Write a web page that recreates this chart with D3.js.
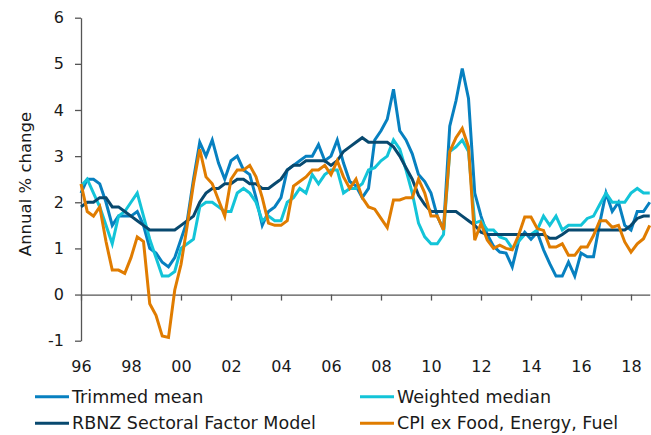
<!DOCTYPE html>
<html>
<head>
<meta charset="utf-8">
<script src="https://cdn.jsdelivr.net/npm/d3@7"></script>
<style>
body { margin: 0; background: #fff; }
svg text { font-family: "DejaVu Sans", Verdana, sans-serif; fill: #1a1a1a; }
.axis path, .axis line { stroke: #555; stroke-width: 1.3; }
.series { fill: none; stroke-width: 3; }
</style>
</head>
<body>
<div id="chart"></div>
<script>
// quarterly, 1996Q1 .. 2018Q4
var startYear = 1996;

var trimmedMean = [2.2, 2.5, 2.5, 2.4, 2.0, 1.5, 1.7, 1.7, 1.7, 1.8, 1.5, 1.0, 0.9, 0.7, 0.6, 0.8,
  1.2, 1.6, 2.5, 3.3, 3.0, 3.35, 2.85, 2.5, 2.9, 3.0, 2.7, 2.6, 2.1, 1.5, 1.8, 1.9,
  2.1, 2.7, 2.8, 2.9, 3.0, 3.0, 3.25, 2.9, 3.0, 3.35, 2.85, 2.45, 2.35, 2.1, 2.3, 3.35,
  3.55, 3.8, 4.45, 3.55, 3.35, 3.05, 2.6, 2.45, 2.2, 1.7, 1.4, 3.65, 4.2, 4.9, 4.25, 2.2,
  1.7, 1.3, 1.05, 0.92, 0.9, 0.6, 1.15, 1.35, 1.2, 1.35, 0.97, 0.67, 0.4, 0.4, 0.7, 0.4,
  0.9, 0.82, 0.82, 1.55, 2.2, 1.8, 2.0, 1.5, 1.4, 1.8, 1.8, 2.0];

var weightedMedian = [2.35, 2.5, 2.2, 1.9, 1.5, 1.1, 1.7, 1.8, 2.0, 2.2, 1.7, 1.2, 0.8, 0.4, 0.4, 0.5,
  1.0, 1.1, 1.2, 1.9, 2.0, 2.0, 1.9, 1.8, 1.8, 2.2, 2.3, 2.2, 2.0, 1.6, 1.7, 1.6,
  1.6, 2.0, 2.1, 2.3, 2.2, 2.6, 2.4, 2.6, 2.7, 2.7, 2.2, 2.3, 2.3, 2.4, 2.7, 2.75,
  2.9, 3.0, 3.35, 3.15, 2.7, 2.2, 1.55, 1.25, 1.1, 1.1, 1.3, 3.1, 3.2, 3.35, 3.1, 1.55,
  1.6, 1.4, 1.4, 1.25, 1.2, 1.0, 1.15, 1.3, 1.3, 1.4, 1.7, 1.5, 1.7, 1.4, 1.5, 1.5,
  1.5, 1.65, 1.7, 1.95, 2.2, 2.0, 2.0, 2.0, 2.2, 2.3, 2.2, 2.2];

var sectoralFactor = [1.9, 2.0, 2.0, 2.1, 2.1, 1.9, 1.9, 1.8, 1.7, 1.6, 1.5, 1.4, 1.4, 1.4, 1.4, 1.4,
  1.5, 1.6, 1.7, 2.0, 2.2, 2.3, 2.3, 2.4, 2.4, 2.5, 2.5, 2.4, 2.4, 2.3, 2.3, 2.4,
  2.5, 2.7, 2.8, 2.8, 2.9, 2.9, 2.9, 2.9, 2.8, 2.9, 3.1, 3.2, 3.3, 3.4, 3.3, 3.3,
  3.3, 3.3, 3.2, 3.0, 2.75, 2.5, 2.15, 1.95, 1.8, 1.8, 1.8, 1.8, 1.8, 1.7, 1.6, 1.5,
  1.35, 1.3, 1.3, 1.3, 1.3, 1.3, 1.3, 1.3, 1.3, 1.3, 1.3, 1.22, 1.22, 1.3, 1.4, 1.4,
  1.4, 1.4, 1.4, 1.4, 1.4, 1.4, 1.4, 1.4, 1.5, 1.65, 1.7, 1.7];

var cpiExFEF = [2.4, 1.8, 1.7, 1.9, 1.15, 0.53, 0.53, 0.46, 0.8, 1.25, 1.15, -0.2, -0.45, -0.9, -0.93, 0.1,
  0.65, 1.5, 2.4, 3.15, 2.55, 2.4, 2.05, 1.7, 2.5, 2.7, 2.7, 2.8, 2.55, 2.1, 1.55, 1.5,
  1.5, 1.6, 2.35, 2.45, 2.55, 2.7, 2.7, 2.8, 2.6, 2.9, 2.55, 2.3, 2.5, 2.1, 1.9, 1.85,
  1.65, 1.45, 2.05, 2.05, 2.1, 2.1, 2.5, 2.2, 1.7, 1.7, 1.4, 3.1, 3.4, 3.6, 3.2, 1.18,
  1.54, 1.18, 1.0, 1.07, 1.0, 0.97, 1.28, 1.68, 1.68, 1.43, 1.39, 1.03, 1.03, 1.1, 0.85, 0.85,
  1.03, 1.03, 1.28, 1.6, 1.6, 1.46, 1.5, 1.14, 0.92, 1.1, 1.21, 1.5];

var tickYears = [1996, 1998, 2000, 2002, 2004, 2006, 2008, 2010, 2012, 2014, 2016, 2018];
var tickLabels = ["96", "98", "00", "02", "04", "06", "08", "10", "12", "14", "16", "18"];
var yTicks = [-1, 0, 1, 2, 3, 4, 5, 6];

var seriesNames = ["Trimmed mean", "Weighted median", "RBNZ Sectoral Factor Model", "CPI ex Food, Energy, Fuel"];
var seriesValues = [trimmedMean, weightedMedian, sectoralFactor, cpiExFEF];
var seriesColors = ["#0780c0", "#13c4d8", "#08496f", "#e07c00"];

var w = 651,
    h = 435,
    m = [17.7, 1.25, 94.3, 81]; // top right bottom left

var x = d3.scaleLinear()
    .domain([startYear, startYear + (trimmedMean.length - 1) / 4])
    .range([m[3], w - m[1]]);

var y = d3.scaleLinear()
    .domain([-1, 6])
    .range([h - m[2], m[0]]);

var svg = d3.select("#chart").append("svg")
    .attr("width", w)
    .attr("height", h);

// y axis
svg.append("g")
    .attr("class", "axis")
    .attr("transform", "translate(" + m[3] + ",0)")
    .call(d3.axisLeft(y)
      .tickValues(yTicks)
      .tickFormat(function(d) { return String(d); })
      .tickSize(6)
      .tickSizeOuter(0)
      .tickPadding(11))
    .selectAll("text")
      .style("font-size", "16px");

// x axis sits on zero, labels pushed down below the plot
svg.append("g")
    .attr("class", "axis")
    .attr("transform", "translate(0," + y(0) + ")")
    .call(d3.axisBottom(x)
      .tickValues(tickYears)
      .tickFormat(function(d, i) { return tickLabels[i]; })
      .tickSize(6)
      .tickSizeOuter(0)
      .tickPadding(60))
    .selectAll("text")
      .style("font-size", "16px");

svg.selectAll(".axis text").attr("fill", "#1a1a1a");

svg.append("text")
    .attr("transform", "translate(31,184) rotate(-90)")
    .attr("text-anchor", "middle")
    .style("font-size", "16.5px")
    .text("Annual % change");

var line = d3.line()
    .x(function(d, i) { return x(startYear + i / 4); })
    .y(function(d) { return y(d); });

svg.selectAll("path.series")
    .data(seriesValues)
  .enter().append("path")
    .attr("class", "series")
    .attr("stroke", function(d, i) { return seriesColors[i]; })
    .attr("d", line);

// legend, two columns
var legend = svg.selectAll("g.legend")
    .data(seriesNames)
  .enter().append("g")
    .attr("class", "legend")
    .attr("transform", function(d, i) {
      return "translate(" + (i % 2 ? 360 : 35) + "," + (i < 2 ? 396.7 : 423.3) + ")";
    });

legend.append("line")
    .attr("x2", 34)
    .attr("stroke", function(d, i) { return seriesColors[i]; })
    .attr("stroke-width", 3);

legend.append("text")
    .attr("x", 37)
    .attr("dy", "0.35em")
    .style("font-size", "17.5px")
    .text(function(d) { return d; });
</script>
</body>
</html>
